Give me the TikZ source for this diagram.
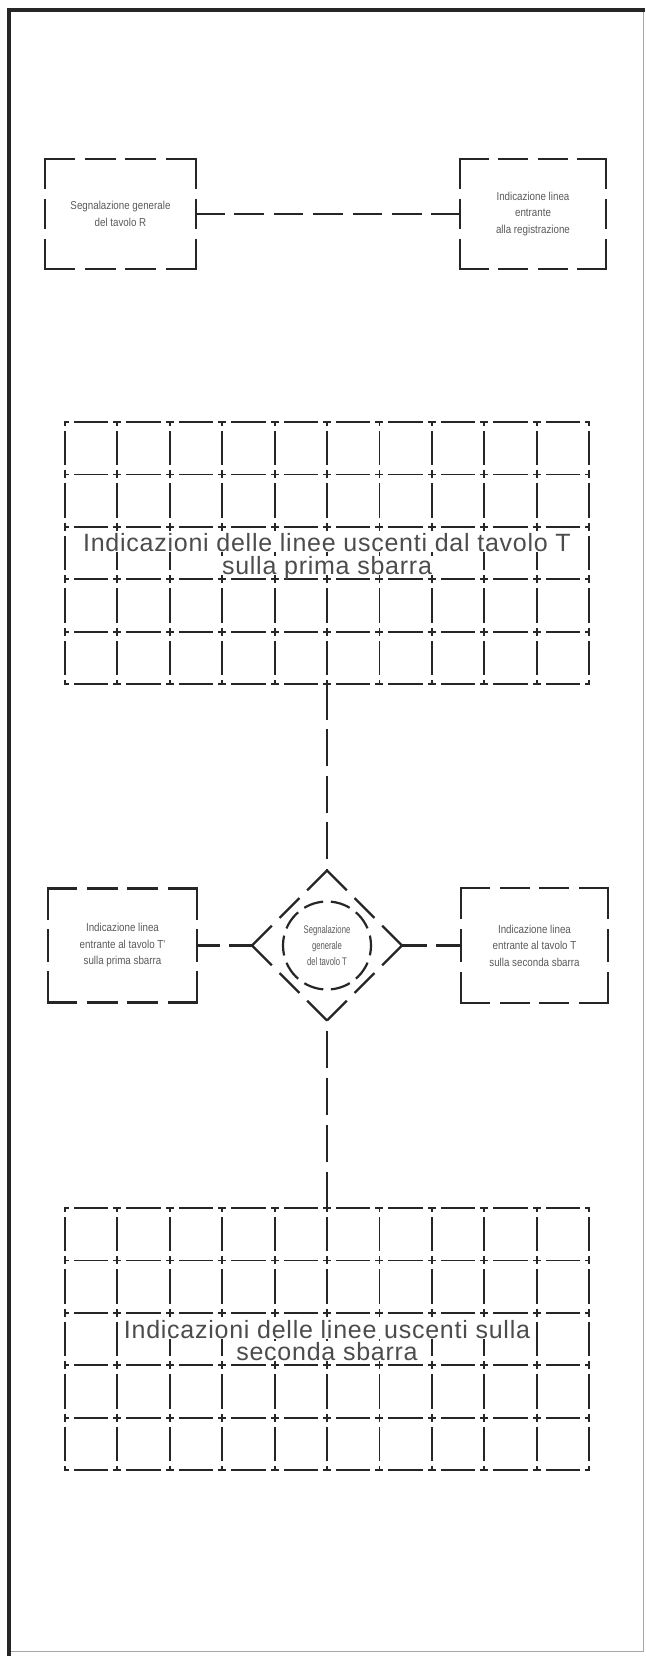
\documentclass[tikz,border=0pt]{standalone}
\usepackage{fontspec}
\setmainfont{Liberation Sans}
\newfontfamily\boxfont[FakeStretch=0.85]{Liberation Sans}
\newfontfamily\diafont[FakeStretch=0.7]{Liberation Sans}
\newfontfamily\gridfont[LetterSpace=3]{Liberation Sans}
\usetikzlibrary{calc,shapes.geometric}
\definecolor{ink}{HTML}{262626}
\definecolor{txt}{HTML}{5A5A5A}
\tikzset{
  boxnode/.style={draw=none, inner sep=0pt, outer sep=0pt, align=center, text=txt,
    font=\boxfont\fontsize{11.5}{16.5}\selectfont},
  inkline/.style={draw=ink, line width=2.2pt, line cap=rect},
  gridline/.style={draw=ink, line width=1.8pt, line cap=rect,
    dash pattern=on 6.1pt off 6.9pt on 32.5pt off 6.9pt, dash phase=3.05pt},
  gridtext/.style={fill=white, inner sep=0.6pt, text depth=0pt, text=black!70, anchor=base,
    font=\gridfont\fontsize{25}{30}\selectfont},
  gridnode/.style={draw=none, inner sep=0pt, outer sep=0pt, minimum width=524pt, minimum height=262pt},
}
\newcommand\dashedbox[3]{%
  \draw[inkline, dash pattern=on #2pt off 12pt] (#1.north west) -- (#1.north east) (#1.south west) -- (#1.south east);
  \draw[inkline, dash pattern=on #3pt off 12pt] (#1.north west) -- (#1.south west) (#1.north east) -- (#1.south east);
}
\newcommand\gridlines[1]{%
  \foreach \i in {0,...,5} {
    \draw[gridline] ($(#1.north west)!\i/5!(#1.south west)$) -- ($(#1.north east)!\i/5!(#1.south east)$);
  }
  \foreach \j in {0,...,10} {
    \draw[gridline] ($(#1.north west)!\j/10!(#1.north east)$) -- ($(#1.south west)!\j/10!(#1.south east)$);
  }
}
\begin{document}
\begin{tikzpicture}[x=1pt,y=-1pt]
\useasboundingbox (0,0) rectangle (645,1656);
\fill[white] (0,0) rectangle (645,1656);
% frame
\draw[black!35, line width=1pt] (9,1651) -- (643,1651) -- (643,10);
\draw[ink, line width=3.5pt] (645,10) -- (9,10) -- (9,1656);

% top boxes
\node[boxnode, minimum width=151pt, minimum height=110pt] (T1) at (120.5,214) {Segnalazione generale\\del tavolo R};
\node[boxnode, minimum width=146pt, minimum height=110pt] (T2) at (533,214) {Indicazione linea\\entrante\\alla registrazione};
\dashedbox{T1}{28.75}{28.67}
\dashedbox{T2}{27.5}{28.67}
\draw[inkline, dash pattern=on 27.43pt off 12pt] (T1.east) -- (T2.west);

% grid 1
\node[gridnode] (g1) at (327,553) {};
\gridlines{g1}
\node[gridtext] (g1a) at ($(g1.north)+(0,129.8)$) {Indicazioni delle linee uscenti dal tavolo T};
\node[gridtext] (g1b) at ($(g1.north)+(0,152.8)$) {sulla prima sbarra};

% diamond and circle
\node[diamond, draw=none, inner sep=0pt, outer sep=0pt, minimum width=150pt, minimum height=150pt] (dia) at (327,945.5) {};
\node[circle, draw=ink, line width=2.2pt, inner sep=0pt, minimum size=88pt,
  dash pattern=on 20pt off 7.65pt, dash phase=10pt] (ring) at (dia.center) {};
\node[align=center, text=txt, font=\diafont\fontsize{11}{16}\selectfont] (diatext) at (dia.center) {Segnalazione\\generale\\del tavolo T};
\draw[draw=ink, line width=2.2pt, dash pattern=on 28.02pt off 11pt]
  (dia.north) -- (dia.west) (dia.north) -- (dia.east)
  (dia.west) -- (dia.south) (dia.east) -- (dia.south);

% middle boxes
\node[boxnode, minimum width=149pt, minimum height=114pt] (M1) at (122.5,945.5) {Indicazione linea\\entrante al tavolo T'\\sulla prima sbarra};
\node[boxnode, minimum width=147pt, minimum height=115pt] (M2) at (534.5,945.5) {Indicazione linea\\entrante al tavolo T\\sulla seconda sbarra};
\dashedbox{M1}{28.25}{30}
\dashedbox{M2}{27.75}{30.33}
\draw[inkline, dash pattern=on 21.5pt off 12pt] (M1.east) -- (dia.west);
\draw[inkline, dash pattern=on 23.5pt off 12pt] (M2.west) -- (dia.east);

% grid 2
\node[gridnode] (g2) at (327,1339) {};
\gridlines{g2}
\node[gridtext] (g2a) at ($(g2.north)+(0,130)$) {Indicazioni delle linee uscenti sulla};
\node[gridtext] (g2b) at ($(g2.north)+(0,152)$) {seconda sbarra};

% vertical connectors
\draw[inkline, dash pattern=on 34.5pt off 12pt] (g1.south) -- (dia.north);
\draw[inkline, dash pattern=on 35pt off 12pt] (g2.north) -- (dia.south);
\end{tikzpicture}
\end{document}
